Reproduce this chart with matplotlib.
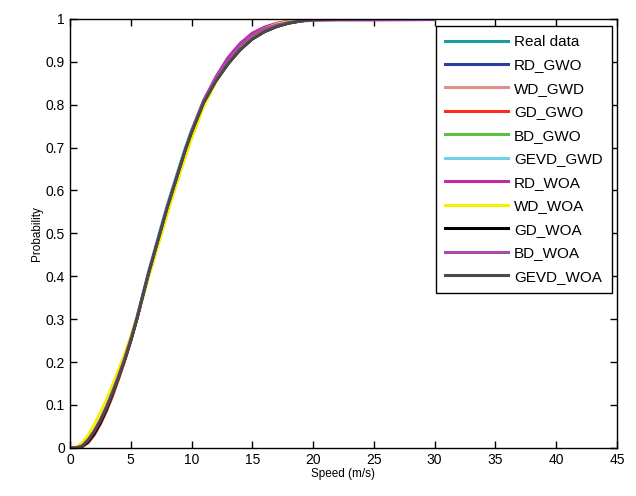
import matplotlib
matplotlib.use('Agg')
import matplotlib.pyplot as plt

plt.rcParams['font.family'] = ['Liberation Sans', 'DejaVu Sans']

# wind speed grid (m/s) and CDF values
speed = [0, 0.5, 1, 1.5, 2, 2.5, 3, 3.5, 4, 4.5, 5, 5.5, 6, 6.5, 7, 7.5, 8, 8.5,
         9, 9.5, 10, 11, 12, 13, 14, 15, 16, 17, 18, 19, 20, 22, 25]

real_data = [0, 0, 0.004, 0.017, 0.036, 0.062, 0.094, 0.13, 0.168, 0.208, 0.253, 0.302, 0.358, 0.413,
             0.463, 0.514, 0.564, 0.61, 0.655, 0.7, 0.74, 0.808, 0.858, 0.897, 0.93, 0.955, 0.972,
             0.983, 0.99, 0.995, 0.998, 0.999, 1.0]
rd_gwo = [0, 0, 0.004, 0.018, 0.038, 0.063, 0.093, 0.128, 0.165, 0.205, 0.25, 0.3, 0.355, 0.41,
          0.46, 0.51, 0.56, 0.605, 0.65, 0.695, 0.735, 0.805, 0.855, 0.895, 0.928, 0.953, 0.97,
          0.982, 0.99, 0.995, 0.998, 0.999, 1.0]
wd_gwd = [0, 0, 0.005, 0.019, 0.039, 0.064, 0.094, 0.129, 0.166, 0.206, 0.251, 0.301, 0.355, 0.41,
          0.46, 0.51, 0.559, 0.604, 0.649, 0.693, 0.733, 0.803, 0.854, 0.895, 0.929, 0.954, 0.971,
          0.983, 0.991, 0.995, 0.998, 0.999, 1.0]
gd_gwo = [0, 0, 0.002, 0.012, 0.03, 0.055, 0.085, 0.12, 0.16, 0.202, 0.248, 0.298, 0.353, 0.408,
          0.459, 0.51, 0.56, 0.606, 0.651, 0.695, 0.736, 0.806, 0.856, 0.896, 0.929, 0.953, 0.97,
          0.982, 0.99, 0.995, 0.998, 0.999, 1.0]
bd_gwo = [0, 0, 0.004, 0.017, 0.037, 0.062, 0.092, 0.127, 0.165, 0.205, 0.25, 0.3, 0.355, 0.41,
          0.46, 0.51, 0.56, 0.605, 0.65, 0.694, 0.735, 0.805, 0.855, 0.895, 0.928, 0.953, 0.97,
          0.982, 0.99, 0.995, 0.998, 0.999, 1.0]
gevd_gwd = [0, 0, 0.003, 0.015, 0.034, 0.06, 0.09, 0.126, 0.165, 0.207, 0.253, 0.304, 0.36, 0.416,
            0.466, 0.517, 0.567, 0.612, 0.657, 0.701, 0.741, 0.81, 0.858, 0.897, 0.93, 0.954, 0.971,
            0.983, 0.99, 0.995, 0.998, 0.999, 1.0]
rd_woa = [0, 0, 0.006, 0.02, 0.04, 0.066, 0.097, 0.132, 0.17, 0.21, 0.255, 0.303, 0.356, 0.41,
          0.46, 0.51, 0.56, 0.605, 0.65, 0.695, 0.737, 0.81, 0.865, 0.91, 0.943, 0.967, 0.981,
          0.99, 0.995, 0.998, 0.999, 1.0, 1.0]
wd_woa = [0, 0.002, 0.012, 0.03, 0.055, 0.083, 0.113, 0.147, 0.183, 0.22, 0.26, 0.305, 0.35, 0.4,
          0.447, 0.495, 0.543, 0.59, 0.635, 0.678, 0.72, 0.795, 0.852, 0.898, 0.933, 0.96, 0.977,
          0.988, 0.994, 0.997, 0.999, 1.0, 1.0]
gd_woa = [0, 0, 0.003, 0.014, 0.033, 0.058, 0.089, 0.125, 0.164, 0.205, 0.25, 0.3, 0.355, 0.41,
          0.46, 0.51, 0.56, 0.605, 0.65, 0.695, 0.735, 0.805, 0.855, 0.895, 0.928, 0.953, 0.97,
          0.982, 0.99, 0.995, 0.998, 0.999, 1.0]
bd_woa = [0, 0, 0.005, 0.019, 0.04, 0.065, 0.096, 0.131, 0.169, 0.209, 0.254, 0.302, 0.356, 0.41,
          0.46, 0.51, 0.56, 0.605, 0.65, 0.695, 0.737, 0.81, 0.862, 0.903, 0.938, 0.962, 0.977,
          0.986, 0.992, 0.995, 0.996, 0.997, 0.997]
gevd_woa = [0, 0, 0.004, 0.018, 0.038, 0.063, 0.093, 0.128, 0.165, 0.205, 0.25, 0.3, 0.355, 0.41,
            0.46, 0.51, 0.56, 0.605, 0.65, 0.695, 0.735, 0.805, 0.855, 0.895, 0.928, 0.953, 0.97,
            0.982, 0.99, 0.995, 0.998, 0.999, 1.0]

# BD_WOA tail runs further out along the top
bd_woa_tail_x = [25, 30]
bd_woa_tail_y = [0.997, 0.998]

series = [
    ("Real data", real_data, '#1a9c9c'),
    ("RD_GWO", rd_gwo, '#2a3fa0'),
    ("WD_GWD", wd_gwd, '#e0908a'),
    ("GD_GWO", gd_gwo, '#ff2a1a'),
    ("BD_GWO", bd_gwo, '#5cc040'),
    ("GEVD_GWD", gevd_gwd, '#6fd2e6'),
    ("RD_WOA", rd_woa, '#c02aa8'),
    ("WD_WOA", wd_woa, '#f5f000'),
    ("GD_WOA", gd_woa, '#000000'),
    ("BD_WOA", bd_woa, '#a84aa8'),
    ("GEVD_WOA", gevd_woa, '#4a4a4a'),
]

fig = plt.figure(figsize=(6.36, 4.96), dpi=100)
ax = fig.add_axes([0.110, 0.097, 0.860, 0.865])

for name, vals, col in series:
    if name == "BD_WOA":
        ax.plot(speed + bd_woa_tail_x, vals + bd_woa_tail_y, color=col, lw=2, label=name)
    else:
        ax.plot(speed, vals, color=col, lw=2, label=name)

ax.set_xlim(0, 45)
ax.set_ylim(0, 1)
ax.set_xticks(range(0, 46, 5))
ax.set_yticks([i / 10 for i in range(11)])
ax.set_yticklabels(['0', '0.1', '0.2', '0.3', '0.4', '0.5', '0.6', '0.7', '0.8', '0.9', '1'])
ax.tick_params(direction='in', top=True, right=True, labelsize=10, length=5, width=1)
for s in ax.spines.values():
    s.set_linewidth(1)
ax.set_xlabel('Speed (m/s)', fontsize=8.5, labelpad=1)
ax.set_ylabel('Probability', fontsize=8.5, labelpad=2)

leg = ax.legend(loc='upper right', bbox_to_anchor=(0.991, 0.984), borderaxespad=0, fontsize=11,
                handlelength=4.1, labelspacing=0.62, borderpad=0.6, handletextpad=0.4,
                fancybox=False, framealpha=1, edgecolor='black')
leg.get_frame().set_linewidth(1)
for line in leg.get_lines():
    line.set_linewidth(2.2)

fig.savefig('out.png', dpi=100)
